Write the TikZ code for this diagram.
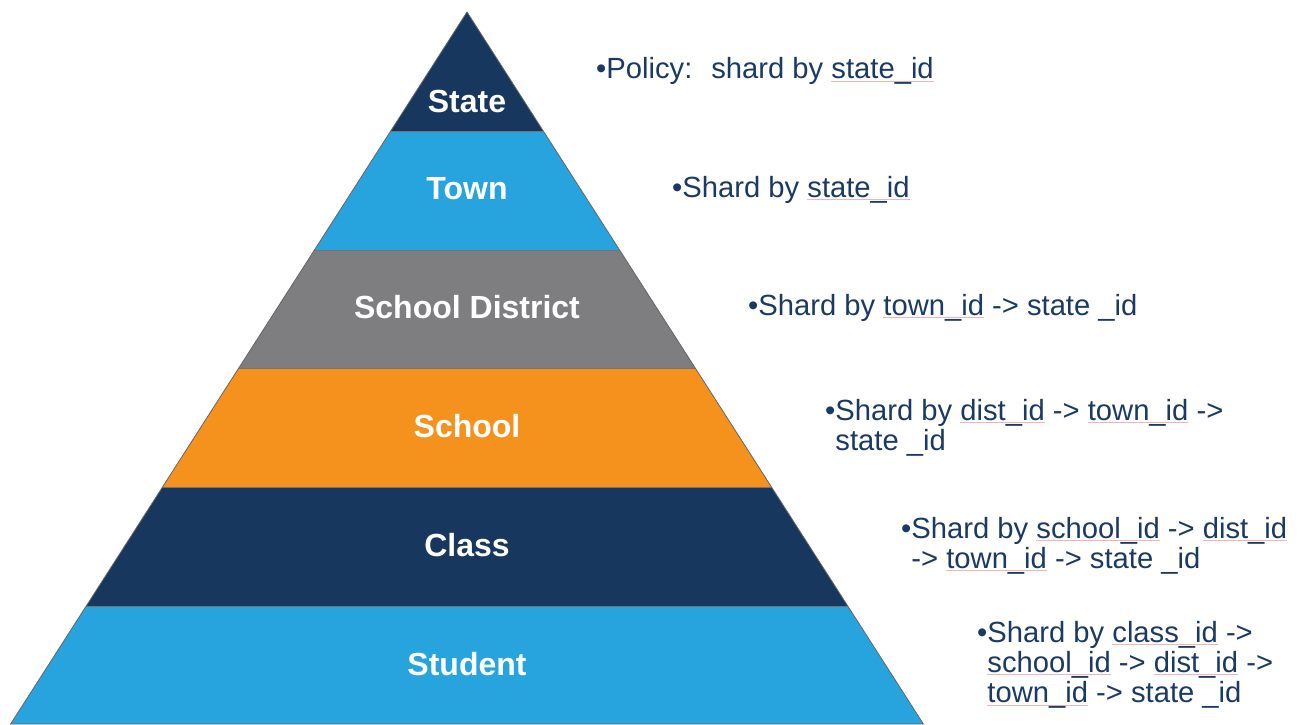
\documentclass[tikz,border=0pt]{standalone}
\usepackage{fontspec}
\setmainfont{Liberation Sans}
\usetikzlibrary{positioning}

\definecolor{navy}{HTML}{17375E}
\definecolor{sky}{HTML}{27A4DE}
\definecolor{slate}{HTML}{7E7D80}
\definecolor{amber}{HTML}{F5921E}
\definecolor{inknavy}{HTML}{1B3A63}
\definecolor{spellred}{HTML}{F4B4B4}

% faint red mark under the id names
\newsavebox\spellbox
\newcommand{\squiggle}[1]{\sbox\spellbox{#1}%
  \rlap{\textcolor{spellred}{\rule[-3pt]{\wd\spellbox}{0.7pt}}}\usebox\spellbox}

\tikzset{layer label/.style={text=white, font=\bfseries\fontsize{32}{32}\selectfont},
         note/.style={anchor=base west, inner sep=0pt, text=inknavy,
                      font=\fontsize{29.2}{30}\selectfont}}

\begin{document}
\begin{tikzpicture}[x=1pt, y=-1pt]
    \useasboundingbox (0,0) rectangle (1299,725);

    % bands of the pyramid, top to bottom
    \foreach \ya/\yb/\col/\lbl/\ly [count=\i] in
        {12/131/navy/State/101, 131/250/sky/Town/189,
         250/368/slate/School District/307, 368/487/amber/School/426,
         487/606/navy/Class/545, 606/724/sky/Student/664}
    {
        \pgfmathsetmacro\wa{0.641*(\ya-12)}
        \pgfmathsetmacro\wb{0.641*(\yb-12)}
        \fill[\col] (467-\wa,\ya) -- (467+\wa,\ya) -- (467+\wb,\yb) -- (467-\wb,\yb) -- cycle;
        \node[layer label] (band\i) at (467,\ly) {\lbl};
    }
    \foreach \y in {131,250,368,487,606}
    {
        \pgfmathsetmacro\w{0.641*(\y-12)}
        \draw[black!55, line width=1pt] (467-\w,\y) -- (467+\w,\y);
    }
    \draw[black!60, line width=0.8pt, line join=miter]
        (10.6,724) -- (467,12) -- (923.4,724) -- cycle;

    % sharding notes
    \node[note] (policy) at (596,79) {\begin{tabular}[t]{@{}l@{}l@{}}
        \textbullet & Policy:~ shard by \squiggle{state\_id}\end{tabular}};
    \node[note] (town) at (672,197) {\begin{tabular}[t]{@{}l@{}l@{}}
        \textbullet & Shard by \squiggle{state\_id}\end{tabular}};
    \node[note] (district) at (748,315) {\begin{tabular}[t]{@{}l@{}l@{}}
        \textbullet & Shard by \squiggle{town\_id} -> state \_id\end{tabular}};
    \node[note] (school) at (825,420) {\begin{tabular}[t]{@{}l@{}l@{}}
        \textbullet & Shard by \squiggle{dist\_id} -> \squiggle{town\_id} ->\\
                    & state \_id\end{tabular}};
    \node[note] (class) at (901,538) {\begin{tabular}[t]{@{}l@{}l@{}}
        \textbullet & Shard by \squiggle{school\_id} -> \squiggle{dist\_id}\\
                    & -> \squiggle{town\_id} -> state \_id\end{tabular}};
    \node[note] (student) at (977,642) {\begin{tabular}[t]{@{}l@{}l@{}}
        \textbullet & Shard by \squiggle{class\_id} ->\\
                    & \squiggle{school\_id} -> \squiggle{dist\_id} ->\\
                    & \squiggle{town\_id} -> state \_id\end{tabular}};
\end{tikzpicture}
\end{document}
